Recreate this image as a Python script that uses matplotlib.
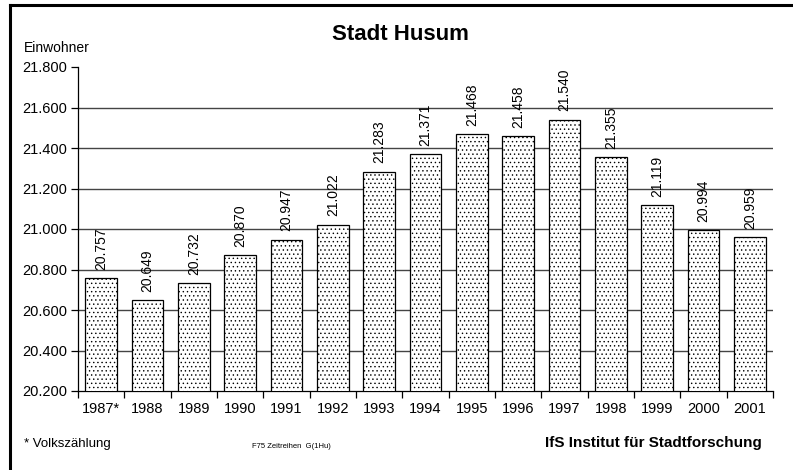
import matplotlib
matplotlib.use("Agg")
import matplotlib.pyplot as plt
from matplotlib.lines import Line2D
from matplotlib.ticker import FuncFormatter, FixedLocator

YEARS = ["1987*", "1988", "1989", "1990", "1991", "1992", "1993", "1994",
         "1995", "1996", "1997", "1998", "1999", "2000", "2001"]
EINWOHNER = [20757, 20649, 20732, 20870, 20947, 21022, 21283, 21371,
             21468, 21458, 21540, 21355, 21119, 20994, 20959]
Y_TICKS = [20200, 20400, 20600, 20800, 21000, 21200, 21400, 21600, 21800]

plt.rcParams["font.family"] = ["Liberation Sans", "DejaVu Sans"]
plt.rcParams["hatch.linewidth"] = 0.5

W, H = 793, 470
fig = plt.figure(figsize=(W / 100, H / 100), dpi=100)

# frame round the sheet: only its top and left edges fall inside the picture
fig.lines.append(Line2D([10 / W, 1.0], [1 - 5 / H, 1 - 5 / H],
                        transform=fig.transFigure, color="black", linewidth=2.2))
fig.lines.append(Line2D([10 / W, 10 / W], [0.0, 1 - 5 / H],
                        transform=fig.transFigure, color="black", linewidth=2.2))

ax = fig.add_axes([78 / W, 1 - 391 / H, (773 - 78) / W, (391 - 67) / H])

def de_fmt(v, pos=None):
    return f"{v:,.0f}".replace(",", ".")

x = list(range(len(YEARS)))
ax.bar(x, EINWOHNER, width=0.68, color="white", edgecolor="black",
       hatch="....", linewidth=0.9, zorder=3)
for xi, v in zip(x, EINWOHNER):
    ax.annotate(de_fmt(v), (xi, v), xytext=(0, 6), textcoords="offset points",
                rotation=90, ha="center", va="bottom", fontsize=10, zorder=4)

ax.set_xlim(-0.5, len(YEARS) - 0.5)
ax.set_ylim(Y_TICKS[0], Y_TICKS[-1])
ax.set_yticks(Y_TICKS)
ax.yaxis.set_major_formatter(FuncFormatter(de_fmt))
for yv in Y_TICKS[1:-1]:
    ax.axhline(yv, color="#444444", linewidth=1.0, zorder=1)

ax.set_xticks(x)
ax.set_xticklabels(YEARS)
ax.xaxis.set_minor_locator(FixedLocator([i - 0.5 for i in range(len(YEARS) + 1)]))
ax.tick_params(axis="x", which="major", length=0, pad=8, labelsize=10.5)
ax.tick_params(axis="x", which="minor", length=5, width=0.9, direction="out")
ax.tick_params(axis="y", length=5, width=0.9, direction="out", labelsize=10.5, pad=3)

for s in ["top", "right"]:
    ax.spines[s].set_visible(False)
for s in ["left", "bottom"]:
    ax.spines[s].set_linewidth(0.9)

fig.text(400 / W, 1 - 35 / H, "Stadt Husum", ha="center", va="center",
         fontsize=16, fontweight="bold")
fig.text(24 / W, 1 - 48 / H, "Einwohner", ha="left", va="center", fontsize=10)
fig.text(24 / W, 1 - 444 / H, "* Volkszählung", ha="left", va="center", fontsize=9.5)
fig.text(252 / W, 1 - 447 / H, "F75 Zeitreihen  G(1Hu)", ha="left", va="center",
         fontsize=5.5)
fig.text(545 / W, 1 - 443 / H, "IfS Institut für Stadtforschung", ha="left",
         va="center", fontsize=11, fontweight="bold")

fig.savefig("out.png", dpi=100)
